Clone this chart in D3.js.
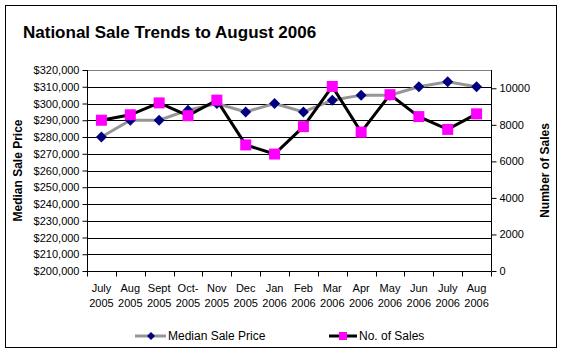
<!DOCTYPE html>
<html>
<head>
<meta charset="utf-8">
<script src="https://cdn.jsdelivr.net/npm/d3@7"></script>
<style>
  body { margin: 0; background: #fff; }
  svg text { font-family: Arial, "Liberation Sans", sans-serif; fill: #000; }
</style>
</head>
<body>
<svg id="chart" width="563" height="354"></svg>
<script>
var months = ["July", "Aug", "Sept", "Oct-", "Nov", "Dec", "Jan", "Feb", "Mar", "Apr", "May", "Jun", "July", "Aug"];
var years = ["2005", "2005", "2005", "2005", "2005", "2005", "2006", "2006", "2006", "2006", "2006", "2006", "2006", "2006"];
var medianPrice = [280000, 290000, 290000, 296000, 300000, 295000, 300000, 295000, 302000, 305000, 305000, 310000, 313000, 310000];
var numSales = [8250, 8550, 9200, 8500, 9350, 6900, 6400, 7900, 10100, 7600, 9650, 8450, 7750, 8600];
var priceTicks = d3.range(200000, 320001, 10000);
var salesTicks = [0, 2000, 4000, 6000, 8000, 10000];

var svg = d3.select("#chart"),
  margin = { top: 70, right: 72, bottom: 83, left: 87 },
  width = +svg.attr("width"),
  height = +svg.attr("height"),
  plotW = width - margin.left - margin.right,
  plotH = height - margin.top - margin.bottom;

// outer frame
svg.append("rect")
  .attr("x", 5.5).attr("y", 5.5)
  .attr("width", 551).attr("height", 342)
  .attr("fill", "#fff").attr("stroke", "#000");

svg.append("text")
  .attr("x", 23).attr("y", 38)
  .attr("font-size", 17).attr("font-weight", "bold")
  .text("National Sale Trends to August 2006");

var idx = months.map((d, i) => i);

var x = d3.scaleBand().domain(idx).range([margin.left, margin.left + plotW]);
var yL = d3.scaleLinear().domain([200000, 320000]).range([margin.top + plotH, margin.top]);
var yR = d3.scaleLinear().domain([0, 11000]).range([margin.top + plotH, margin.top]);

var g = svg.append("g");

// gridlines
g.selectAll(".grid")
  .data(priceTicks.slice(1, -1))
  .enter().append("line")
  .attr("x1", margin.left).attr("x2", margin.left + plotW)
  .attr("y1", (d) => Math.round(yL(d)) + 0.5)
  .attr("y2", (d) => Math.round(yL(d)) + 0.5)
  .attr("stroke", "#000");

// plot area top/right border
g.append("line")
  .attr("x1", margin.left).attr("x2", margin.left + plotW)
  .attr("y1", margin.top + 0.5).attr("y2", margin.top + 0.5)
  .attr("stroke", "#808080");

var fmt = d3.format("$,.0f");

var axL = svg.append("g")
  .attr("transform", "translate(" + (margin.left + 0.5) + ",0)")
  .call(d3.axisLeft(yL).tickValues(priceTicks).tickFormat(fmt).tickSize(5).tickPadding(3).offset(0.5));
axL.selectAll("text").attr("font-size", 11).attr("font-family", "Arial, 'Liberation Sans', sans-serif");

var axR = svg.append("g")
  .attr("transform", "translate(" + (margin.left + plotW + 0.5) + ",0)")
  .call(d3.axisRight(yR).tickValues(salesTicks).tickFormat(d3.format("d")).tickSize(5).tickPadding(3).offset(0.5));
axR.selectAll("text").attr("font-size", 11).attr("font-family", "Arial, 'Liberation Sans', sans-serif");

var axB = svg.append("g")
  .attr("transform", "translate(0," + (margin.top + plotH + 0.5) + ")")
  .call(d3.axisBottom(x).tickSize(0).tickFormat("").offset(0.5));
axB.select(".domain").attr("d", "M" + margin.left + ",0H" + (margin.left + plotW));

[axL, axR, axB].forEach((a) => a.selectAll("path, line").attr("stroke", "#000"));
axL.select(".domain").attr("d", "M0," + margin.top + "V" + (margin.top + plotH));
axR.select(".domain").attr("d", "M0," + margin.top + "V" + (margin.top + plotH));

// category boundary ticks
axB.selectAll(".ctick")
  .data(d3.range(0, months.length + 1))
  .enter().append("line")
  .attr("x1", (i) => Math.round(margin.left + i * x.bandwidth()) + 0.5)
  .attr("x2", (i) => Math.round(margin.left + i * x.bandwidth()) + 0.5)
  .attr("y1", 0).attr("y2", 5)
  .attr("stroke", "#000");

var cx = (i) => x(i) + x.bandwidth() / 2;

var labels = svg.append("g");
labels.selectAll(".m").data(months).enter().append("text")
  .attr("x", (d, i) => cx(i)).attr("y", 292)
  .attr("text-anchor", "middle").attr("font-size", 11).text((d) => d);
labels.selectAll(".yr").data(years).enter().append("text")
  .attr("x", (d, i) => cx(i)).attr("y", 307)
  .attr("text-anchor", "middle").attr("font-size", 11).text((d) => d);

// axis titles
svg.append("text")
  .attr("transform", "translate(22," + (margin.top + plotH / 2) + ") rotate(-90)")
  .attr("text-anchor", "middle").attr("font-size", 12).attr("font-weight", "bold")
  .text("Median Sale Price");
svg.append("text")
  .attr("transform", "translate(549," + (margin.top + plotH / 2) + ") rotate(-90)")
  .attr("text-anchor", "middle").attr("font-size", 12).attr("font-weight", "bold")
  .text("Number of Sales");

// lines
var priceLine = d3.line().x((d, i) => cx(i)).y((d) => yL(d));
var salesLine = d3.line().x((d, i) => cx(i)).y((d) => yR(d));

svg.append("path").datum(medianPrice)
  .attr("d", priceLine).attr("fill", "none")
  .attr("stroke", "#969696").attr("stroke-width", 3);

svg.append("path").datum(numSales)
  .attr("d", salesLine).attr("fill", "none")
  .attr("stroke", "#000").attr("stroke-width", 3);

var diamond = "M0,-5.5L5.5,0L0,5.5L-5.5,0Z";

svg.selectAll(".dia").data(medianPrice).enter().append("path")
  .attr("d", diamond)
  .attr("transform", (d, i) => "translate(" + cx(i) + "," + yL(d) + ")")
  .attr("fill", "#000080");

svg.selectAll(".sq").data(numSales).enter().append("rect")
  .attr("x", (d, i) => cx(i) - 5.5).attr("y", (d) => yR(d) - 5.5)
  .attr("width", 11).attr("height", 11)
  .attr("fill", "#ff00ff");

// legend
var leg = svg.append("g");
leg.append("line").attr("x1", 135).attr("x2", 166).attr("y1", 336).attr("y2", 336)
  .attr("stroke", "#969696").attr("stroke-width", 3);
leg.append("path").attr("d", "M0,-4L4,0L0,4L-4,0Z")
  .attr("transform", "translate(151,336)").attr("fill", "#000080");
leg.append("text").attr("x", 168).attr("y", 340).attr("font-size", 12).text("Median Sale Price");

leg.append("line").attr("x1", 329).attr("x2", 357).attr("y1", 336).attr("y2", 336)
  .attr("stroke", "#000").attr("stroke-width", 3);
leg.append("rect").attr("x", 339).attr("y", 332).attr("width", 8).attr("height", 8)
  .attr("fill", "#ff00ff");
leg.append("text").attr("x", 359).attr("y", 340).attr("font-size", 12).text("No. of Sales");
</script>
</body>
</html>
